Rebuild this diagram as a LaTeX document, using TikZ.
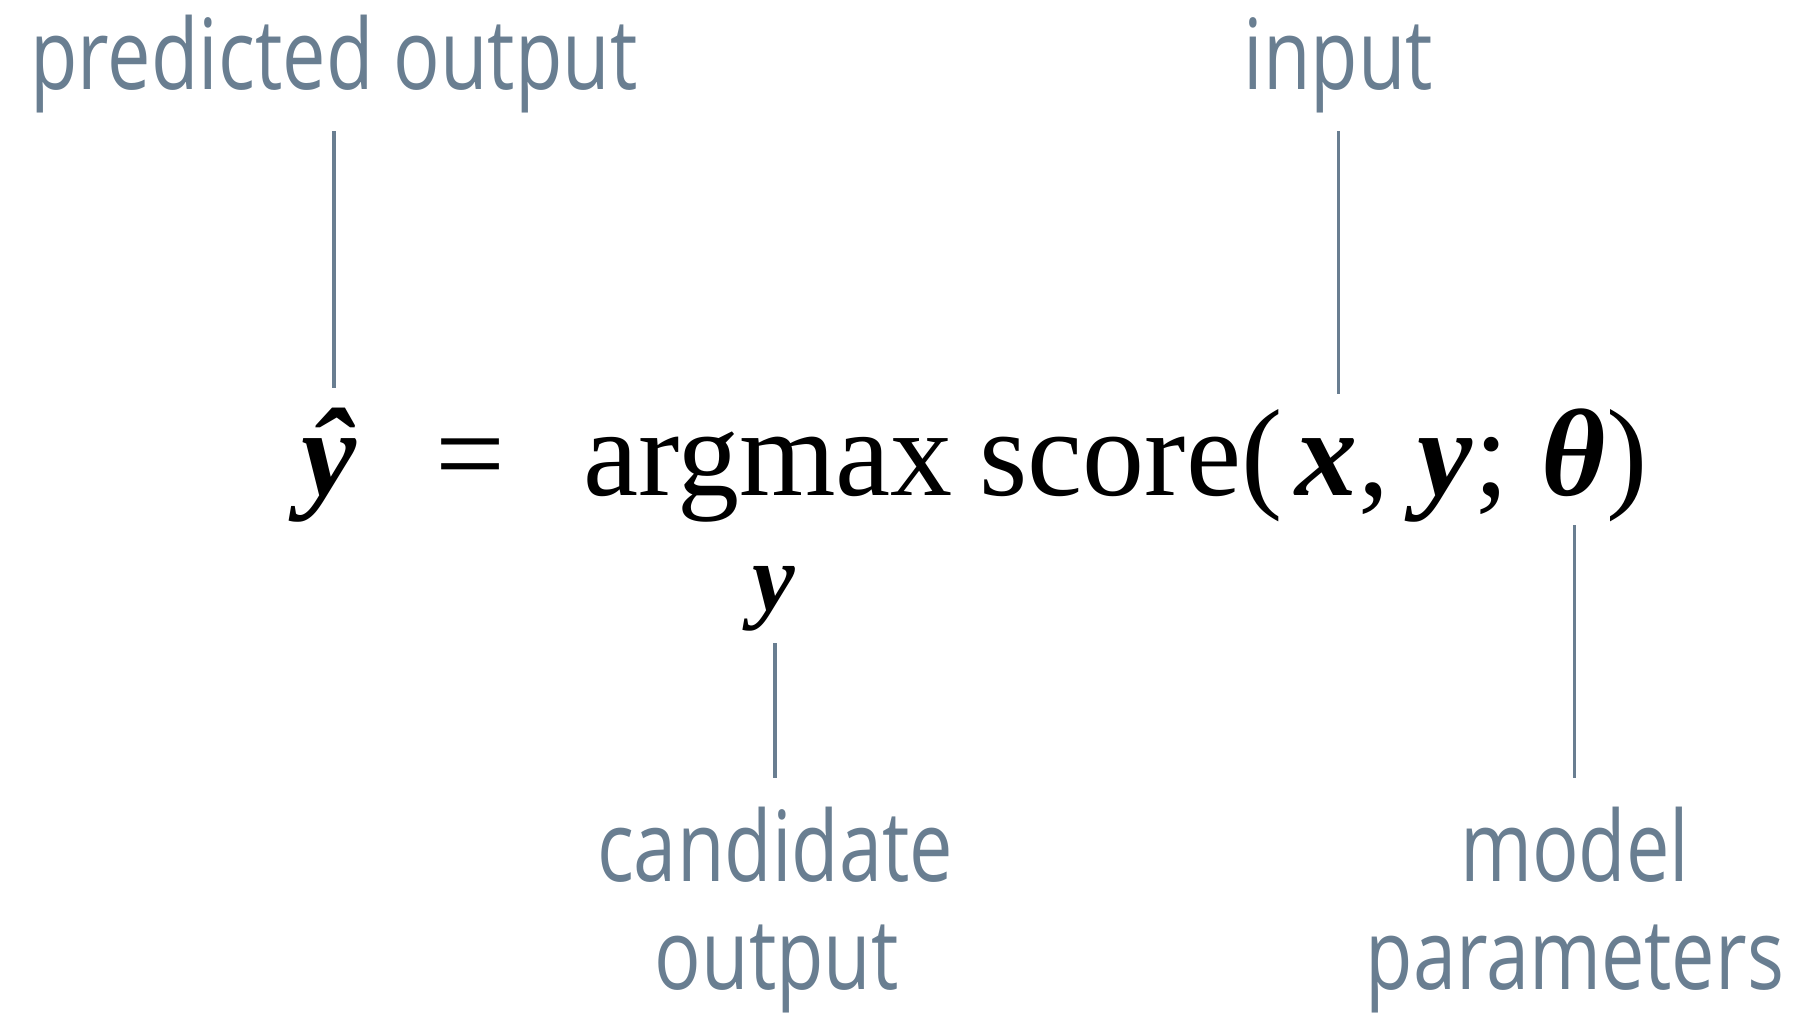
\documentclass[tikz,border=0pt]{standalone}
\usepackage{fontspec}
\setmainfont{Liberation Serif}
\newfontfamily\labelfont[FakeStretch=0.79]{Open Sans}
\usetikzlibrary{positioning,calc}
\definecolor{labelgray}{RGB}{105,126,145}

\begin{document}
\begin{tikzpicture}[x=1pt,y=1pt,
label node/.style={inner sep=0pt,anchor=base,text=labelgray,font=\labelfont\fontsize{49}{54}\selectfont},
math node/.style={inner sep=0pt,anchor=base west,font=\fontsize{62}{70}\selectfont},
gray line/.style={draw=labelgray,line width=1.6pt}]
\useasboundingbox (0,0) rectangle (899.5,506.5);
% nodes
  \node[label node] (predicted) at (167,461.8) {predicted output};
  \node[label node] (input) at (669.2,461.8) {input};
  \node[math node] (yhat) at (150.5,258.7) {\textbf{\textit{\^y}}};
  \node[math node,anchor=base] (eq) at (235.2,258.7) {=};
  \node[math node] (argmax) at (291.4,258.7) {argmax};
  \node[math node,xshift=13pt] (score) at (argmax.base east) {score(};
  \node[math node,xshift=6pt] (xvar) at (score.base east) {\textbf{\textit{x}}};
  \node[math node] (comma) at (xvar.base east) {,\kern14pt};
  \node[math node] (yvar) at (comma.base east) {\textbf{\textit{y}}};
  \node[math node] (semi) at (yvar.base east) {;\kern16pt};
  \node[math node] (theta) at (semi.base east) {\textbf{\textit{θ}}};
  \node[math node] (rparen) at (theta.base east) {)};
  \node[math node,anchor=base,font=\fontsize{48}{54}\selectfont] (ysub) at (387,201.4) {\textbf{\textit{y}}};
  \node[label node] (candidate) at (387.5,66) {candidate};
  \node[label node] (candout) at (388.4,12) {output};
  \node[label node] (model) at (787.4,66) {model};
  \node[label node] (params) at (787.4,12) {parameters};
  %edges
  \draw[gray line,shorten <=9pt,shorten >=10pt] (predicted.south) -- (predicted.south |- yhat.north);
  \draw[gray line,shorten <=9pt,shorten >=22pt] (input.south) -- (input.south |- xvar.north);
  \draw[gray line,shorten <=6pt,shorten >=14pt] (candidate.north |- ysub.south) -- (candidate.north);
  \draw[gray line,shorten <=14pt,shorten >=14pt] (model.north |- theta.south) -- (model.north);
\end{tikzpicture}
\end{document}
